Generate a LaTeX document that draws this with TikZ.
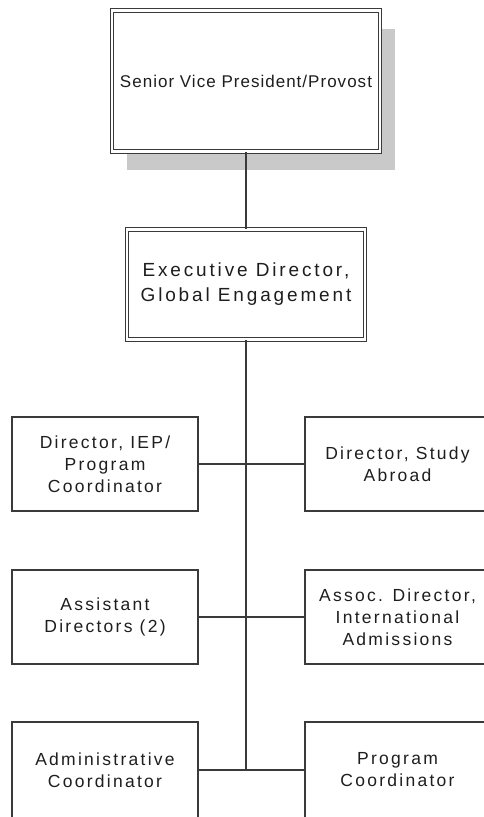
\documentclass[tikz,border=0pt]{standalone}
\usepackage{fontspec}
\setmainfont{Liberation Sans}
\newfontfamily\orgfont[LetterSpace=13]{Liberation Sans}
\newfontfamily\execfont[LetterSpace=15]{Liberation Sans}
\newfontfamily\topfont[LetterSpace=6]{Liberation Sans}
\usetikzlibrary{shadows}
\definecolor{linec}{HTML}{3A3A3A}
\definecolor{textc}{HTML}{1E1E1E}
\definecolor{shadowc}{HTML}{C9C9C9}
\begin{document}
\begin{tikzpicture}[x=1pt,y=-1pt,
  box/.style={draw=linec, line width=1.1pt, fill=white, rectangle, align=center,
    inner sep=0pt, text=textc, minimum width=186pt, minimum height=94pt,
    font=\orgfont\fontsize{17.5}{22}\selectfont},
  dbox/.style={draw=linec, double=white, double distance=2.2pt, line width=1pt,
    fill=white, rectangle, align=center, inner sep=0pt, text=textc},
  conn/.style={draw=linec, line width=1.1pt}]
\clip (0,0) rectangle (484,817);
\fill[white] (0,0) rectangle (484,817);
% top
\node[dbox, minimum width=268pt, minimum height=141pt,
  drop shadow={shadow xshift=15pt, shadow yshift=-18pt, fill=shadowc, opacity=1},
  font=\topfont\fontsize{17}{21}\selectfont] (top) at (246,81) {Senior Vice President/Provost};
\node[dbox, minimum width=238pt, minimum height=110pt,
  font=\execfont\fontsize{19}{25}\selectfont] (exec) at (246,284.5) {Executive Director,\\Global Engagement};
% rows
\node[box] (l1) at (105,464) {Director, IEP/\\Program\\Coordinator};
\node[box, minimum width=185pt] (r1) at (397.5,464) {Director, Study\\Abroad};
\node[box] (l2) at (105,617) {Assistant\\Directors (2)};
\node[box, minimum width=185pt] (r2) at (397.5,617) {Assoc. Director,\\International\\Admissions};
\node[box, minimum height=96pt] (l3) at (105,770) {Administrative\\Coordinator};
\node[box, minimum width=185pt, minimum height=96pt] (r3) at (397.5,770) {Program\\Coordinator};
\coordinate (end) at (246,770);
% connectors
\draw[conn] (top.south) -- (exec.north);
\draw[conn] (exec.south) -- (end);
\draw[conn] (l1.east) -- (r1.west);
\draw[conn] (l2.east) -- (r2.west);
\draw[conn] (l3.east) -- (r3.west);
\end{tikzpicture}
\end{document}
